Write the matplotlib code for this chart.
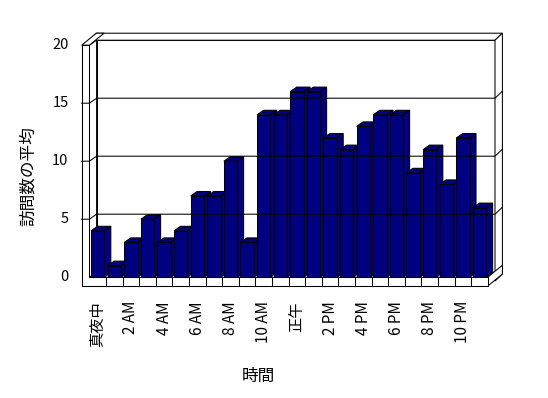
import matplotlib
matplotlib.use("Agg")
import matplotlib.pyplot as plt
from matplotlib.patches import Polygon

plt.rcParams['font.family'] = ['Noto Sans CJK JP', 'DejaVu Sans']

# average visits per hour (0..23)
hours = list(range(24))
visits = [4, 1, 3, 5, 3, 4, 7, 7, 10, 3, 14, 14,
          16, 16, 12, 11, 13, 14, 14, 9, 11, 8, 12, 6]
tick_labels = ["真夜中", "2 AM", "4 AM", "6 AM", "8 AM", "10 AM",
               "正午", "2 PM", "4 PM", "6 PM", "8 PM", "10 PM"]
yticks = [0, 5, 10, 15, 20]
ymax = 20

# pixel layout of the reference
W, H = 548, 398
x0px, cwpx = 89.4, 16.6     # left of first category, category width
y0px, vpx = 277.2, 11.6     # baseline, pixels per unit

DX, DY = 7.2 / cwpx, 5.0 / vpx      # plot depth
WX, WY = 7.4 / cwpx, 7.0 / vpx      # back wall thickness
LW = 7.7 / cwpx                     # left wall thickness
FT = 8.8 / vpx                      # floor thickness
n = len(hours)


def P(x, v, z=0.0, w=0.0):
    return (x + z * DX + w * WX, v + z * DY + w * WY)


fig = plt.figure(figsize=(W / 100, H / 100), dpi=100)
ax = fig.add_axes([0, 0, 1, 1])
ax.set_xlim(-x0px / cwpx, (W - x0px) / cwpx)
ax.set_ylim((y0px - H) / vpx, y0px / vpx)
ax.axis('off')

lw = 0.75
def face(pts, fc='white'):
    ax.add_patch(Polygon(pts, closed=True, facecolor=fc, edgecolor='black',
                         linewidth=lw, joinstyle='miter'))

# back wall (front face at z=1, thickness w)
face([P(0, 0, 1), P(n, 0, 1), P(n, ymax, 1), P(0, ymax, 1)])
face([P(-LW, ymax, 1), P(n, ymax, 1), P(n, ymax, 1, 1), P(-LW, ymax, 1, 1)])
face([P(n, -FT, 1), P(n, -FT, 1, 1), P(n, ymax, 1, 1), P(n, ymax, 1)])

# floor
face([P(0, 0, 0), P(n, 0, 0), P(n, 0, 1), P(0, 0, 1)])
face([P(n, -FT, 0), P(n, -FT, 1, 1), P(n, 0, 1, 1), P(n, 0, 0)])

# left wall inner face and top
face([P(0, 0, 0), P(0, 0, 1), P(0, ymax, 1), P(0, ymax, 0)])
face([P(-LW, ymax, 0), P(0, ymax, 0), P(0, ymax, 1, 1), P(-LW, ymax, 1, 1)])

# front face of left wall + floor
face([P(-LW, -FT), P(n, -FT), P(n, 0), P(0, 0), P(0, ymax), P(-LW, ymax)])
for i in range(1, n):
    ax.plot([i, i], [-FT, 0], color='black', linewidth=lw)

# gridlines
for t in yticks[1:-1]:
    pts = [P(-LW, t), P(0, t), P(0, t, 1), P(n, t, 1), P(n, t, 1, 1)]
    ax.plot([p[0] for p in pts], [p[1] for p in pts], color='black', linewidth=lw)

# bars
bw, bd = 0.8, 0.9
navy = '#000080'
for h, v in zip(hours, visits):
    l = h + (1 - bw) / 2
    r = l + bw
    face([P(r, 0), P(r, 0, bd), P(r, v, bd), P(r, v)], navy)
    face([P(l, v), P(r, v), P(r, v, bd), P(l, v, bd)], navy)
    face([P(l, 0), P(r, 0), P(r, v), P(l, v)], navy)

# tick labels
for t in yticks:
    ax.text(-LW - 0.8, t, str(t), ha='right', va='center', fontsize=10.5)
for k, lab in enumerate(tick_labels):
    ax.text(hours[2 * k] + 0.5, -FT - 1.3, lab, rotation=90,
            ha='center', va='top', fontsize=11)

fig.text(28.7 / W, 1 - 176 / H, "訪問数の平均", rotation=90,
         ha='center', va='center', fontsize=12)
fig.text(258.3 / W, 1 - 376 / H, "時間", ha='center', va='center', fontsize=12)

fig.savefig("out.png", dpi=100)
